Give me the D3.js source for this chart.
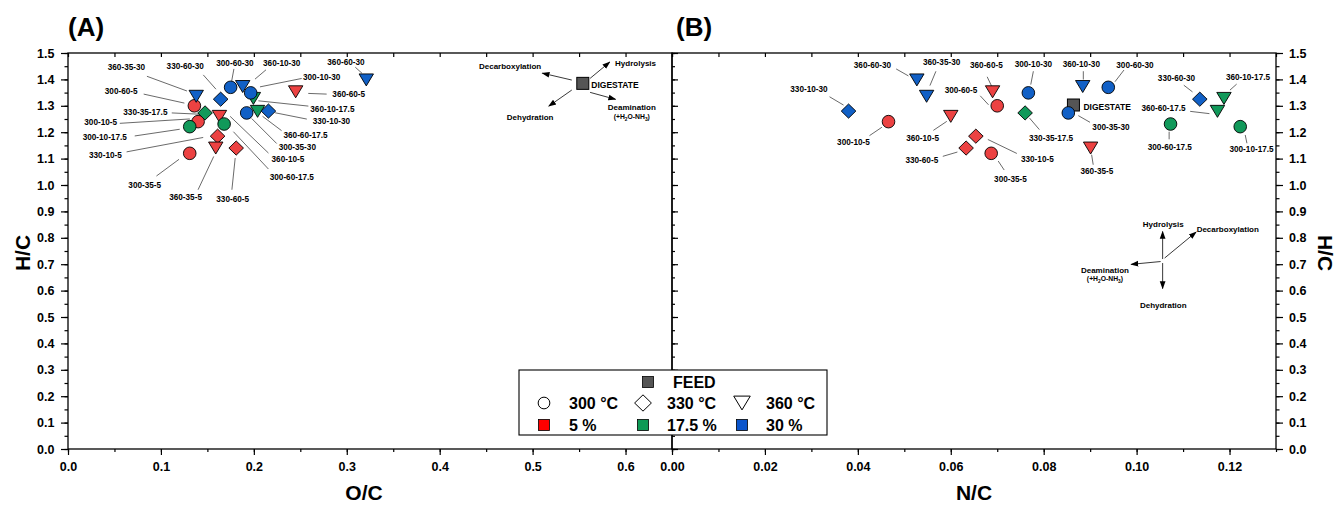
<!DOCTYPE html>
<html>
<head>
<meta charset="utf-8">
<script src="https://cdn.jsdelivr.net/npm/d3@7"></script>
<style>
  body { margin: 0; background: #fff; }
  svg { display: block; font-family: Arial, "Liberation Sans", sans-serif; }
</style>
</head>
<body>
<svg id="chart" width="1336" height="506"></svg>
<script>
// Hydrochar samples, coded temperature(°C)-time(min)-solids(%)
const samples = [
  "300-35-5", "300-10-5", "300-60-5", "330-10-5", "330-60-5", "360-10-5", "360-35-5", "360-60-5",
  "300-10-17.5", "300-60-17.5", "330-35-17.5", "360-10-17.5",
  "360-35-30", "330-60-30", "300-60-30", "360-10-30", "300-10-30", "300-35-30",
  "360-60-17.5", "330-10-30", "360-60-30"
];
const temperatureC = [300, 300, 300, 330, 330, 360, 360, 360, 300, 300, 330, 360, 360, 330, 300, 360, 300, 300, 360, 330, 360];
const solidsPct    = [5, 5, 5, 5, 5, 5, 5, 5, 17.5, 17.5, 17.5, 17.5, 30, 30, 30, 30, 30, 30, 17.5, 30, 30];
const ocRatio = [0.131, 0.140, 0.136, 0.161, 0.181, 0.163, 0.159, 0.245, 0.131, 0.168, 0.1475, 0.1995,
                 0.138, 0.1643, 0.175, 0.188, 0.1966, 0.1923, 0.204, 0.2157, 0.321];
const ncRatio = [0.0687, 0.0466, 0.0700, 0.0654, 0.0633, 0.0600, 0.0901, 0.0690, 0.1223, 0.1073, 0.0760, 0.1188,
                 0.0548, 0.1136, 0.0939, 0.0884, 0.0767, 0.0853, 0.1174, 0.0380, 0.0527];
const hcRatio = [1.120, 1.240, 1.300, 1.185, 1.140, 1.260, 1.140, 1.353, 1.221, 1.231, 1.273, 1.328,
                 1.336, 1.325, 1.370, 1.373, 1.349, 1.273, 1.279, 1.280, 1.398];

// Feedstock (digestate)
const feedName = "DIGESTATE";
const feedOC = 0.554, feedHC_A = 1.385;
const feedNC = 0.0864, feedHC_B = 1.303;

// Axis ticks
const ocTicks = [0, 0.1, 0.2, 0.3, 0.4, 0.5, 0.6];
const ncTicks = [0, 0.02, 0.04, 0.06, 0.08, 0.10, 0.12];
const hcTicks = [0, 0.1, 0.2, 0.3, 0.4, 0.5, 0.6, 0.7, 0.8, 0.9, 1.0, 1.1, 1.2, 1.3, 1.4, 1.5];

// Legend entries
const tempLevels = [300, 330, 360];
const solidsLevels = [5, 17.5, 30];

// ---------- layout & styles ----------
const FONT = 'Arial, "Liberation Sans", sans-serif';
const yTop = 53, yBot = 449, xL = 68, xM = 672, xR = 1276;
const xA = d3.scaleLinear().domain([0, 0.65]).range([xL, xM]);
const xB = d3.scaleLinear().domain([0, 0.13]).range([xM, xR]);
const y = d3.scaleLinear().domain([0, 1.5]).range([yBot, yTop]);

const fillBySolids = d3.scaleOrdinal().domain(solidsLevels).range(["#ec4242", "#11995a", "#1160c6"]);
const legendFill = d3.scaleOrdinal().domain(solidsLevels).range(["#ff0000", "#0d9a55", "#0a55cc"]);

function shapePath(temp, k = 1) {
  if (temp === 300) {
    const r = 6.3 * k;
    return `M${r},0A${r},${r} 0 1,1 ${-r},0A${r},${r} 0 1,1 ${r},0Z`;
  }
  if (temp === 330) {
    const w = 7.3 * k, h = 7.1 * k;
    return `M0,${-h}L${w},0L0,${h}L${-w},0Z`;
  }
  const w = 7.2 * k, h = 6 * k;
  return `M${-w},${-h}L${w},${-h}L0,${h}Z`;
}

// label placement per panel: [text dx, text dy, leader x1, y1, x2, y2] relative to the marker
const labelPosA = {
  "360-35-30": [-69.8, -29.3, -49.3, -20, -9.3, -5.3],
  "330-60-30": [-35.4, -33.3, -17.4, -24.3, -4.7, -10],
  "300-60-30": [4.3, -24.4, 3.3, -18.4, 1, -6],
  "360-10-30": [39, -23.4, 23.3, -16.7, 12.3, -7.4],
  "300-10-30": [71, -16, 51, -14.4, 9.3, -6],
  "360-60-30": [-20.3, -17.3, -11, -12.7, -4.3, -6.7],
  "360-60-5": [53.1, 2.3, 31, 2.3, 12.6, 1.6],
  "360-10-17.5": [79, 11, 55, 7.7, 5, 2.4],
  "330-10-30": [63, 9.7, 38.4, 8, 6.7, 1.7],
  "360-60-17.5": [48, 23.3, 24, 19.3, 5, 5],
  "300-35-30": [50.6, 34, 30, 30.6, 5, 5.6],
  "360-10-5": [68.5, 42.3, 49, 36.7, 10.7, 0],
  "300-60-17.5": [67.7, 53.3, 44.3, 45, 9.3, 7.7],
  "330-60-5": [-3.5, 50.7, -4.3, 41.7, -1, 10],
  "360-35-5": [-30.2, 49.4, -17.7, 41.7, -2, 8.4],
  "300-35-5": [-45, 31.7, -33.3, 22.7, -10.7, 6],
  "330-10-5": [-112.2, 19, -91, 15.7, -14.4, 1.3],
  "300-10-17.5": [-85, 10.6, -55, 9.3, -10, 2.6],
  "300-10-5": [-97.4, 0.7, -78.3, 1.7, -8.3, -2.7],
  "330-35-17.5": [-59.7, -1, -33.3, 0, -5, 1.3],
  "300-60-5": [-73.2, -15, -50.7, -11.7, -10, -2.7]
};
const labelPosB = {
  "330-10-30": [-39.6, -22, -19, -14.3, -5, -6],
  "300-10-5": [-35, 20.6, -19, 14, -6.6, 5.6],
  "360-60-30": [-44.4, -15, -20.7, -11, -8.4, -4],
  "360-35-30": [15, -34.4, 9.3, -25, 3.3, -10.7],
  "360-10-5": [-28.2, 22, -17.4, 14, -4, 5],
  "330-60-5": [-44.3, 12.3, -23.3, 8.3, -8.7, 4],
  "300-60-5": [-36.2, -16, -17, -10, -8.7, -1],
  "360-60-5": [-6.2, -26.7, -5.4, -15, -1, -5.7],
  "330-10-5": [61.5, 22.6, 12, 3.3, 41, 17.3],
  "300-35-5": [19.3, 25.7, 7, 7.7, 13, 16.7],
  "300-10-30": [5, -28.3, 5, -21.6, 2.4, -8.3],
  "330-35-17.5": [26, 25, 14.3, 16.7, 4.3, 5],
  "360-10-30": [-1.4, -22, 0.6, -15.3, 0.6, -7],
  "300-60-30": [26.7, -22.3, 15.7, -17.3, 6.7, -5.6],
  "300-35-30": [42.7, 14.4, 21.7, 9.4, 10, 2.7],
  "360-35-5": [6.3, 23.4, 2.6, 16.7, 1, 6.7],
  "300-60-17.5": [-0.7, 22.7, -1.4, 15.3, -1.4, 7.7],
  "330-60-30": [-23.3, -20.7, -16, -14, -7.3, -7.3],
  "360-10-17.5": [24, -21.6, 12.7, -14.3, 6, -8.3],
  "360-60-17.5": [-54, -3.7, -27.3, 0, -8, 2.3],
  "300-10-17.5": [11.3, 22.6, 6.7, 16.6, 5, 8.3]
};

const svg = d3.select("#chart");
const defs = svg.append("defs");
defs.append("marker")
  .attr("id", "arrowhead")
  .attr("viewBox", "0 0 10 10")
  .attr("refX", 9).attr("refY", 5)
  .attr("markerWidth", 8).attr("markerHeight", 8)
  .attr("markerUnits", "userSpaceOnUse")
  .attr("orient", "auto")
  .append("path").attr("d", "M0,1.4L10,5L0,8.6Z").attr("fill", "#000");

// ---------- axes ----------
function styleAxis(g, fs = 12.5) {
  g.select(".domain").remove();
  g.selectAll(".tick line").attr("stroke", "#000").attr("stroke-width", 1.2);
  g.selectAll(".tick text").attr("font-size", fs).attr("font-weight", "bold")
    .attr("fill", "#000").attr("font-family", FONT);
}
const stepRange = (n, step) => d3.range(0, n + 1).map(i => +(i * step).toFixed(4));
const ocMinor = stepRange(13, 0.05);
const ncMinor = stepRange(13, 0.01);
const hcMinor = stepRange(30, 0.05);

// bottom
svg.append("g").attr("transform", `translate(0,${yBot})`)
  .call(d3.axisBottom(xA).tickValues(ocMinor).tickSize(3).tickFormat("")).call(styleAxis);
svg.append("g").attr("transform", `translate(0,${yBot})`)
  .call(d3.axisBottom(xA).tickValues(ocTicks).tickSize(6).tickPadding(7.5).tickFormat(d3.format(".1f"))).call(styleAxis);
svg.append("g").attr("transform", `translate(0,${yBot})`)
  .call(d3.axisBottom(xB).tickValues(ncMinor).tickSize(3).tickFormat("")).call(styleAxis);
svg.append("g").attr("transform", `translate(0,${yBot})`)
  .call(d3.axisBottom(xB).tickValues(ncTicks).tickSize(6).tickPadding(7.5).tickFormat(d3.format(".2f"))).call(styleAxis);
// top (inward)
svg.append("g").attr("transform", `translate(0,${yTop})`)
  .call(d3.axisBottom(xA).tickValues(ocMinor).tickSize(4).tickFormat("")).call(styleAxis);
svg.append("g").attr("transform", `translate(0,${yTop})`)
  .call(d3.axisBottom(xB).tickValues(ncMinor).tickSize(4).tickFormat("")).call(styleAxis);
// left
svg.append("g").attr("transform", `translate(${xL},0)`)
  .call(d3.axisLeft(y).tickValues(hcMinor).tickSize(3.5).tickFormat("")).call(styleAxis);
svg.append("g").attr("transform", `translate(${xL},0)`)
  .call(d3.axisLeft(y).tickValues(hcTicks).tickSize(7).tickPadding(6.5).tickFormat(d3.format(".1f"))).call(styleAxis);
// middle divider (ticks pointing into panel B)
svg.append("g").attr("transform", `translate(${xM},0)`)
  .call(d3.axisRight(y).tickValues(hcMinor).tickSize(3).tickFormat("")).call(styleAxis);
svg.append("g").attr("transform", `translate(${xM},0)`)
  .call(d3.axisRight(y).tickValues(hcTicks).tickSize(6).tickFormat("")).call(styleAxis);
// right
svg.append("g").attr("transform", `translate(${xR},0)`)
  .call(d3.axisRight(y).tickValues(hcMinor).tickSize(3.5).tickFormat("")).call(styleAxis);
svg.append("g").attr("transform", `translate(${xR},0)`)
  .call(d3.axisRight(y).tickValues(hcTicks).tickSize(7).tickPadding(6).tickFormat(d3.format(".1f"))).call(styleAxis);

// frames
[[xL, xM], [xM, xR]].forEach(([a, b]) => {
  svg.append("rect").attr("x", a).attr("y", yTop).attr("width", b - a).attr("height", yBot - yTop)
    .attr("fill", "none").attr("stroke", "#000").attr("stroke-width", 1.3);
});

// titles
const bold = sel => sel.attr("font-family", FONT).attr("font-weight", "bold").attr("fill", "#000");
svg.append("text").attr("x", xL).attr("y", 36).attr("font-size", 26).text("(A)").call(bold);
svg.append("text").attr("x", xM + 4).attr("y", 36).attr("font-size", 26).text("(B)").call(bold);
svg.append("text").attr("x", 364).attr("y", 500).attr("text-anchor", "middle").attr("font-size", 21).text("O/C").call(bold);
svg.append("text").attr("x", (xM + xR) / 2).attr("y", 500).attr("text-anchor", "middle").attr("font-size", 21).text("N/C").call(bold);
svg.append("text").attr("transform", `translate(30,${(yTop + yBot) / 2 + 2}) rotate(-90)`)
  .attr("text-anchor", "middle").attr("font-size", 21).text("H/C").call(bold);
svg.append("text").attr("transform", `translate(1318,${(yTop + yBot) / 2 + 2}) rotate(90)`)
  .attr("text-anchor", "middle").attr("font-size", 21).text("H/C").call(bold);

// ---------- pathway diagrams ----------
function pathwayText(g, x, y0, txt, anchor, fs = 8) {
  g.append("text").attr("x", x).attr("y", y0).attr("dy", "0.35em").attr("text-anchor", anchor)
    .attr("font-size", fs).text(txt).call(bold);
}
function subFormula(g, x, y0) {
  const t = g.append("text").attr("x", x).attr("y", y0).attr("dy", "0.35em").attr("text-anchor", "middle")
    .attr("font-size", 6.8).call(bold);
  t.append("tspan").text("(+H");
  t.append("tspan").attr("font-size", 4.8).attr("dy", 2).text("2");
  t.append("tspan").attr("dy", -2).text("O-NH");
  t.append("tspan").attr("font-size", 4.8).attr("dy", 2).text("3");
  t.append("tspan").attr("dy", -2).text(")");
}
function arrow(g, x1, y1, x2, y2) {
  g.append("line").attr("x1", x1).attr("y1", y1).attr("x2", x2).attr("y2", y2)
    .attr("stroke", "#222").attr("stroke-width", 0.9).attr("marker-end", "url(#arrowhead)");
}

// Panel A: arrows radiating from the feed
{
  const cx = xA(feedOC), cy = y(feedHC_A);
  const g = svg.append("g").attr("transform", `translate(${cx},${cy})`);
  arrow(g, 7.3, -5, 27, -21.3);
  arrow(g, -11, -3.3, -40.5, -10.2);
  arrow(g, -11, 6.7, -34, 22.8);
  arrow(g, 7.3, 9, 32.8, 16);
  pathwayText(g, 32.3, -20, "Hydrolysis", "start");
  pathwayText(g, -72.7, -17.6, "Decarboxylation", "middle");
  pathwayText(g, -52.7, 33.4, "Dehydration", "middle");
  pathwayText(g, 49, 24.2, "Deamination", "middle");
  subFormula(g, 49, 33.2);
}
// Panel B: free-standing direction key
const pathwayKeyB = [0.1056, 0.712];
{
  const cx = xB(pathwayKeyB[0]), cy = y(pathwayKeyB[1]);
  const g = svg.append("g").attr("transform", `translate(${cx},${cy})`);
  arrow(g, 0, -2, 0, -29.5);
  arrow(g, 2, -3, 33.5, -29);
  arrow(g, -2, 0.5, -31.5, 3.3);
  arrow(g, 0, 2, 0, 27.5);
  pathwayText(g, 0.6, -36.7, "Hydrolysis", "middle");
  pathwayText(g, 34, -32, "Decarboxylation", "start");
  pathwayText(g, -57.7, 9, "Deamination", "middle");
  subFormula(g, -57.7, 18);
  pathwayText(g, 0.6, 44, "Dehydration", "middle");
}

// ---------- feed markers ----------
function feedMarker(px, py, dx, dy) {
  svg.append("rect").attr("x", px - 6).attr("y", py - 6).attr("width", 12).attr("height", 12)
    .attr("fill", "#555").attr("stroke", "#000").attr("stroke-width", 1);
  svg.append("text").attr("x", px + dx).attr("y", py + dy).attr("dy", "0.35em")
    .attr("font-size", 8.5).text(feedName).call(bold);
}
feedMarker(xA(feedOC), y(feedHC_A), 8.5, 1.7);
feedMarker(xB(feedNC), y(feedHC_B), 10, 2.3);

// ---------- sample markers & labels ----------
const rows = samples.map((s, i) => ({
  name: s, temp: temperatureC[i], solids: solidsPct[i],
  oc: ocRatio[i], nc: ncRatio[i], hc: hcRatio[i]
}));

function drawPanel(xScale, key, labelPos) {
  const g = svg.append("g");
  const lab = g.append("g");
  rows.forEach(d => {
    const px = xScale(d[key]), py = y(d.hc);
    const p = labelPos[d.name];
    lab.append("line").attr("x1", px + p[2]).attr("y1", py + p[3]).attr("x2", px + p[4]).attr("y2", py + p[5])
      .attr("stroke", "#444").attr("stroke-width", 0.8);
    lab.append("text").attr("x", px + p[0]).attr("y", py + p[1]).attr("dy", "0.35em")
      .attr("text-anchor", "middle").attr("font-size", 8.2).text(d.name).call(bold);
  });
  g.selectAll("path.pt").data(rows).join("path").attr("class", "pt")
    .attr("transform", d => `translate(${xScale(d[key])},${y(d.hc)})`)
    .attr("d", d => shapePath(d.temp))
    .attr("fill", d => fillBySolids(d.solids))
    .attr("stroke", "#000").attr("stroke-width", 0.9);
}
drawPanel(xA, "oc", labelPosA);
drawPanel(xB, "nc", labelPosB);

// ---------- legend ----------
{
  const g = svg.append("g");
  g.append("rect").attr("x", 519).attr("y", 370).attr("width", 308).attr("height", 65)
    .attr("fill", "#fff").attr("stroke", "#000").attr("stroke-width", 1.1);
  const colX = [544, 643, 742], textX = [569, 667, 766];
  g.append("rect").attr("x", 648 - 5.5).attr("y", 382 - 5.5).attr("width", 11).attr("height", 11)
    .attr("fill", "#555").attr("stroke", "#000").attr("stroke-width", 0.8);
  g.append("text").attr("x", 673).attr("y", 382).attr("dy", "0.36em").attr("font-size", 16).text("FEED").call(bold);
  tempLevels.forEach((t, i) => {
    g.append("path").attr("transform", `translate(${colX[i]},403)`)
      .attr("d", shapePath(t, t === 300 ? 0.93 : 1.15))
      .attr("fill", "#fff").attr("stroke", "#000").attr("stroke-width", 1);
    g.append("text").attr("x", textX[i]).attr("y", 403).attr("dy", "0.36em").attr("font-size", 16)
      .text(`${t} °C`).call(bold);
  });
  solidsLevels.forEach((s, i) => {
    g.append("rect").attr("x", colX[i] - 5.5).attr("y", 425 - 5.5).attr("width", 11).attr("height", 11)
      .attr("fill", legendFill(s)).attr("stroke", "#000").attr("stroke-width", 0.8);
    g.append("text").attr("x", textX[i]).attr("y", 425).attr("dy", "0.36em").attr("font-size", 16)
      .text(`${s} %`).call(bold);
  });
}
</script>
</body>
</html>
